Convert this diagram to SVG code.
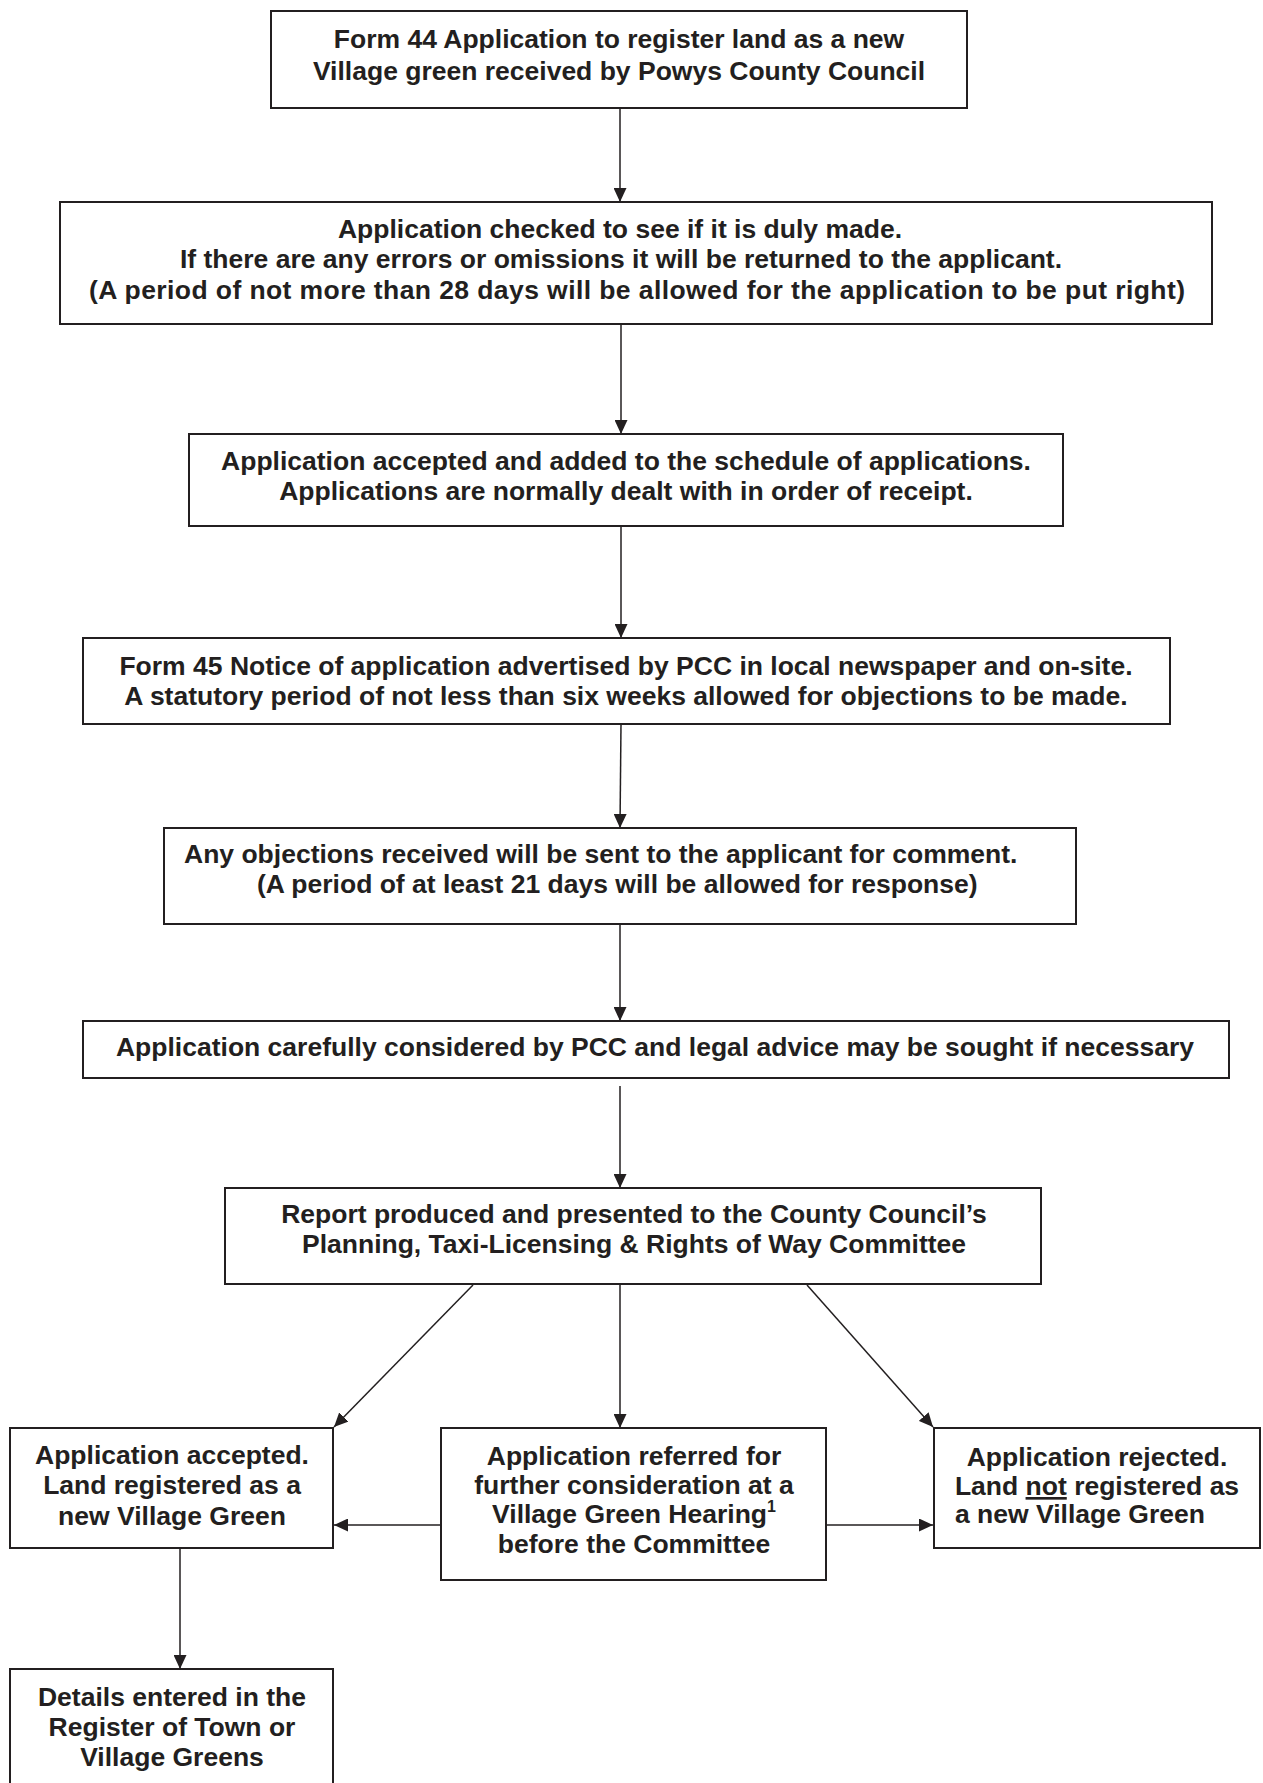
<svg xmlns="http://www.w3.org/2000/svg" width="1263" height="1783" viewBox="0 0 1263 1783">
<style>
.box{fill:#fff;stroke:#231f20;stroke-width:2}
.t{font-family:"Liberation Sans",Arial,sans-serif;font-weight:bold;font-size:26.5px;fill:#231f20;text-anchor:middle}
.s{text-anchor:start}
.c{stroke:#231f20;stroke-width:1.5;fill:none}
</style>
<defs>
<marker id="ah" viewBox="0 0 14 13" refX="14" refY="6.5" markerWidth="14" markerHeight="13" markerUnits="userSpaceOnUse" orient="auto">
<path d="M0,0 L14,6.5 L0,13 Z" fill="#231f20"/>
</marker>
</defs>
<rect width="1263" height="1783" fill="#fff"/>
<g id="connectors">
<line class="c" x1="620" y1="108" x2="620" y2="202" marker-end="url(#ah)"/>
<line class="c" x1="621" y1="324" x2="621" y2="434" marker-end="url(#ah)"/>
<line class="c" x1="621" y1="526" x2="621" y2="638" marker-end="url(#ah)"/>
<line class="c" x1="621" y1="724" x2="620" y2="828" marker-end="url(#ah)"/>
<line class="c" x1="620" y1="924" x2="620" y2="1021" marker-end="url(#ah)"/>
<line class="c" x1="620" y1="1086" x2="620" y2="1188" marker-end="url(#ah)"/>
<line class="c" x1="620" y1="1284" x2="620" y2="1428" marker-end="url(#ah)"/>
<line class="c" x1="473" y1="1285" x2="334" y2="1427" marker-end="url(#ah)"/>
<line class="c" x1="807" y1="1285" x2="933" y2="1427" marker-end="url(#ah)"/>
<line class="c" x1="441" y1="1525" x2="334" y2="1525" marker-end="url(#ah)"/>
<line class="c" x1="826" y1="1525" x2="933" y2="1525" marker-end="url(#ah)"/>
<line class="c" x1="180" y1="1548" x2="180" y2="1669" marker-end="url(#ah)"/>
</g>
<g id="n1">
<rect class="box" x="271" y="11" width="696" height="97"/>
<text class="t" x="619" y="48">Form 44 Application to register land as a new</text>
<text class="t" x="619" y="80">Village green received by Powys County Council</text>
</g>
<g id="n2">
<rect class="box" x="60" y="202" width="1152" height="122"/>
<text class="t" x="620" y="238">Application checked to see if it is duly made.</text>
<text class="t" x="621" y="268">If there are any errors or omissions it will be returned to the applicant.</text>
<text class="t" x="637" y="299" textLength="1096">(A period of not more than 28 days will be allowed for the application to be put right)</text>
</g>
<g id="n3">
<rect class="box" x="189" y="434" width="874" height="92"/>
<text class="t" x="626" y="470">Application accepted and added to the schedule of applications.</text>
<text class="t" x="626" y="500">Applications are normally dealt with in order of receipt.</text>
</g>
<g id="n4">
<rect class="box" x="83" y="638" width="1087" height="86"/>
<text class="t" x="626" y="675">Form 45 Notice of application advertised by PCC in local newspaper and on-site.</text>
<text class="t" x="626" y="705">A statutory period of not less than six weeks allowed for objections to be made.</text>
</g>
<g id="n5">
<rect class="box" x="164" y="828" width="912" height="96"/>
<text class="t s" x="184" y="863">Any objections received will be sent to the applicant for comment.</text>
<text class="t s" x="257" y="893">(A period of at least 21 days will be allowed for response)</text>
</g>
<g id="n6">
<rect class="box" x="83" y="1021" width="1146" height="57"/>
<text class="t" x="655" y="1056">Application carefully considered by PCC and legal advice may be sought if necessary</text>
</g>
<g id="n7">
<rect class="box" x="225" y="1188" width="816" height="96"/>
<text class="t" x="634" y="1223">Report produced and presented to the County Council’s</text>
<text class="t" x="634" y="1253">Planning, Taxi-Licensing &amp; Rights of Way Committee</text>
</g>
<g id="n8">
<rect class="box" x="10" y="1428" width="323" height="120"/>
<text class="t" x="172" y="1464">Application accepted.</text>
<text class="t" x="172" y="1494">Land registered as a</text>
<text class="t" x="172" y="1525">new Village Green</text>
</g>
<g id="n9">
<rect class="box" x="441" y="1428" width="385" height="152"/>
<text class="t" x="634" y="1465">Application referred for</text>
<text class="t" x="634" y="1494">further consideration at a</text>
<text class="t" x="634" y="1523">Village Green Hearing<tspan font-size="16" dy="-11">1</tspan></text>
<text class="t" x="634" y="1553">before the Committee</text>
</g>
<g id="n10">
<rect class="box" x="934" y="1428" width="326" height="120"/>
<text class="t" x="1097" y="1466">Application rejected.</text>
<text class="t" x="1097" y="1495">Land <tspan text-decoration="underline">not</tspan> registered as</text>
<text class="t s" x="955" y="1523">a new Village Green</text>
</g>
<g id="n11">
<rect class="box" x="10" y="1669" width="323" height="130"/>
<text class="t" x="172" y="1706">Details entered in the</text>
<text class="t" x="172" y="1736">Register of Town or</text>
<text class="t" x="172" y="1766">Village Greens</text>
</g>
</svg>
